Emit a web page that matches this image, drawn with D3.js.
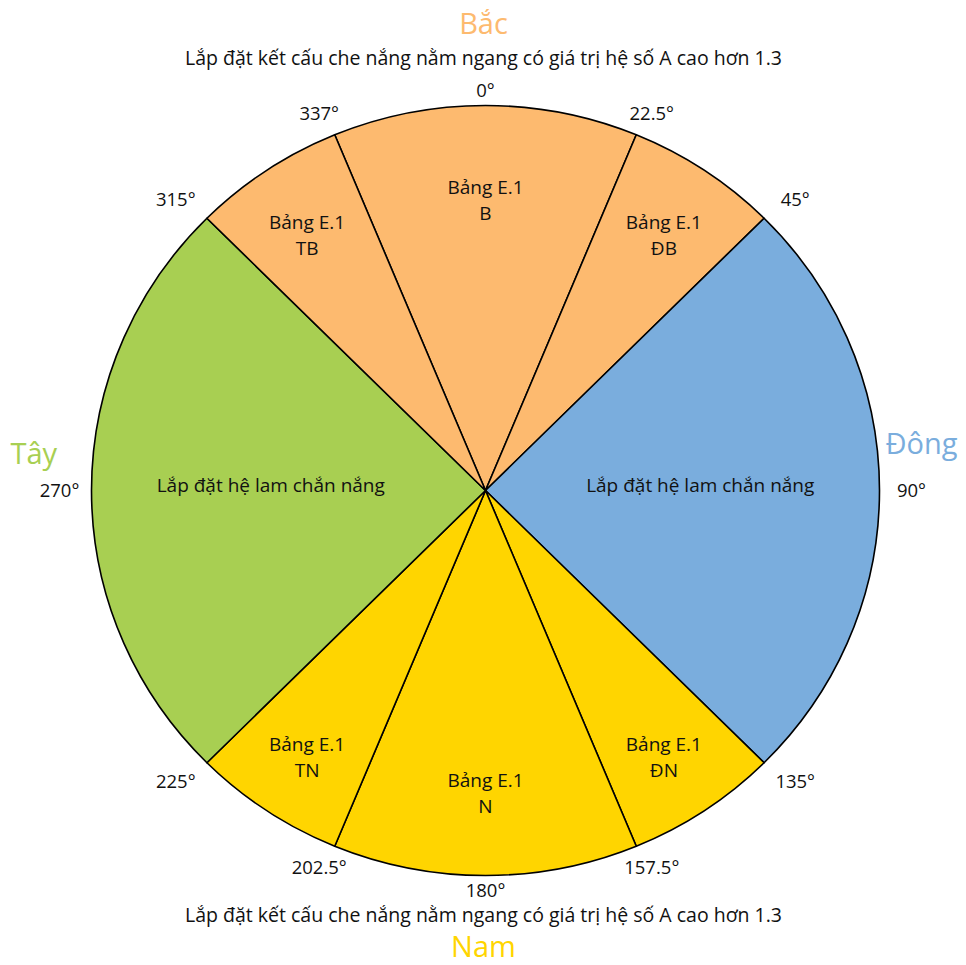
<!DOCTYPE html>
<html>
<head>
<meta charset="utf-8">
<script src="https://cdn.jsdelivr.net/npm/d3@7"></script>
<style>
  body { margin: 0; background: #fff; }
  text { font-family: "Open Sans", "Noto Sans", sans-serif; }
</style>
</head>
<body>
<svg id="chart" width="966" height="965"></svg>
<script>
// sectors, angles in degrees clockwise from north
const sectorStart = [-22.5, 22.5, 45, 135, 157.5, 202.5, 225, 315];
const sectorEnd   = [22.5, 45, 135, 157.5, 202.5, 225, 315, 337.5];
const sectorText  = [
  ["Bảng E.1", "B"], ["Bảng E.1", "ĐB"], ["Lắp đặt hệ lam chắn nắng"],
  ["Bảng E.1", "ĐN"], ["Bảng E.1", "N"], ["Bảng E.1", "TN"],
  ["Lắp đặt hệ lam chắn nắng"], ["Bảng E.1", "TB"]
];
const sectorGroup = ["Bắc", "Bắc", "Đông", "Nam", "Nam", "Nam", "Tây", "Bắc"];

// degree ticks
const tickAngles = [0, 22.5, 45, 90, 135, 157.5, 180, 202.5, 225, 270, 315, 337.5];
const tickLabels = ["0°", "22.5°", "45°", "90°", "135°", "157.5°", "180°", "202.5°", "225°", "270°", "315°", "337°"];

const directions = ["Bắc", "Đông", "Nam", "Tây"];
const dirColors  = ["#fdba6f", "#7aaddd", "#ffd500", "#a8cf52"];
const subtitle = "Lắp đặt kết cấu che nắng nằm ngang có giá trị hệ số A cao hơn 1.3";

//------------------------------------------------------------------------------
var svg = d3.select("#chart");
var cx = 485.5, cy = 490.5, rx = 394, ry = 385;

var color = d3.scaleOrdinal().domain(directions).range(dirColors);
var ang = d3.scaleLinear().domain([0, 360]).range([0, 2 * Math.PI]);

// point on the (slightly flattened) circle, k = scale, ax/ay = extra px
function pos(deg, k, ax, ay) {
  ax = ax || 0; ay = ay || 0;
  return [cx + (rx * k + ax) * Math.sin(ang(deg)), cy - (ry * k + ay) * Math.cos(ang(deg))];
}

var sectors = sectorStart.map((s, i) => ({
  start: s, end: sectorEnd[i], text: sectorText[i], group: sectorGroup[i]
}));

var arc = d3.arc()
  .innerRadius(0)
  .outerRadius(rx)
  .startAngle(d => ang(d.start))
  .endAngle(d => ang(d.end));

var pie = svg.append("g")
  .attr("transform", "translate(" + cx + "," + cy + ") scale(1," + (ry / rx) + ")");

pie.selectAll("path")
  .data(sectors)
  .enter()
  .append("path")
  .attr("d", arc)
  .attr("fill", d => color(d.group))
  .attr("stroke", "#000")
  .attr("stroke-width", 1.6)
  .attr("stroke-linejoin", "round");

// sector labels
var lab = svg.append("g").attr("font-size", 19).attr("fill", "#111").attr("text-anchor", "middle");
sectors.forEach(d => {
  var w = d.end - d.start;
  var k = w >= 90 ? 0.545 : (w >= 45 ? 0.77 : 0.815);
  var p = pos((d.start + d.end) / 2, k);
  var n = d.text.length;
  var shift = n > 1 ? 6 : -5;
  var t = lab.append("text").attr("x", p[0]).attr("y", p[1]);
  d.text.forEach((line, j) => {
    t.append("tspan")
      .attr("x", p[0])
      .attr("y", p[1] + shift + (j - (n - 1) / 2) * 26)
      .attr("dy", "0.35em")
      .text(line);
  });
});

// degree labels (pushed a bit further out on the diagonals)
function tickPos(d) {
  var extra = 12 * Math.abs(Math.sin(2 * ang(d)));
  return pos(d, 1, 32 + extra, 15 + extra);
}
svg.append("g").attr("font-size", 18.5).attr("fill", "#111")
  .selectAll("text")
  .data(tickAngles)
  .enter()
  .append("text")
  .attr("x", d => tickPos(d)[0])
  .attr("y", d => tickPos(d)[1])
  .attr("dy", "0.35em")
  .attr("text-anchor", "middle")
  .text((d, i) => tickLabels[i]);

// subtitles
svg.append("text").attr("x", cx - 2).attr("y", cy - ry - 47).attr("dy", "0.35em")
  .attr("text-anchor", "middle").attr("font-size", 19.5).attr("fill", "#111").text(subtitle);
svg.append("text").attr("x", cx - 2).attr("y", cy + ry + 40).attr("dy", "0.35em")
  .attr("text-anchor", "middle").attr("font-size", 19.5).attr("fill", "#111").text(subtitle);

// direction names
var dirPos = {
  "Bắc":  [cx - 2, cy - ry - 82, "middle"],
  "Nam":  [cx - 2, cy + ry + 71, "middle"],
  "Đông": [cx + rx + 6, cy - 47, "start"],
  "Tây":  [cx - rx - 81, cy - 37, "start"]
};
directions.forEach(name => {
  var p = dirPos[name];
  svg.append("text")
    .attr("x", p[0]).attr("y", p[1]).attr("dy", "0.35em")
    .attr("text-anchor", p[2])
    .attr("font-size", 29)
    .attr("fill", color(name))
    .text(name);
});
</script>
</body>
</html>
